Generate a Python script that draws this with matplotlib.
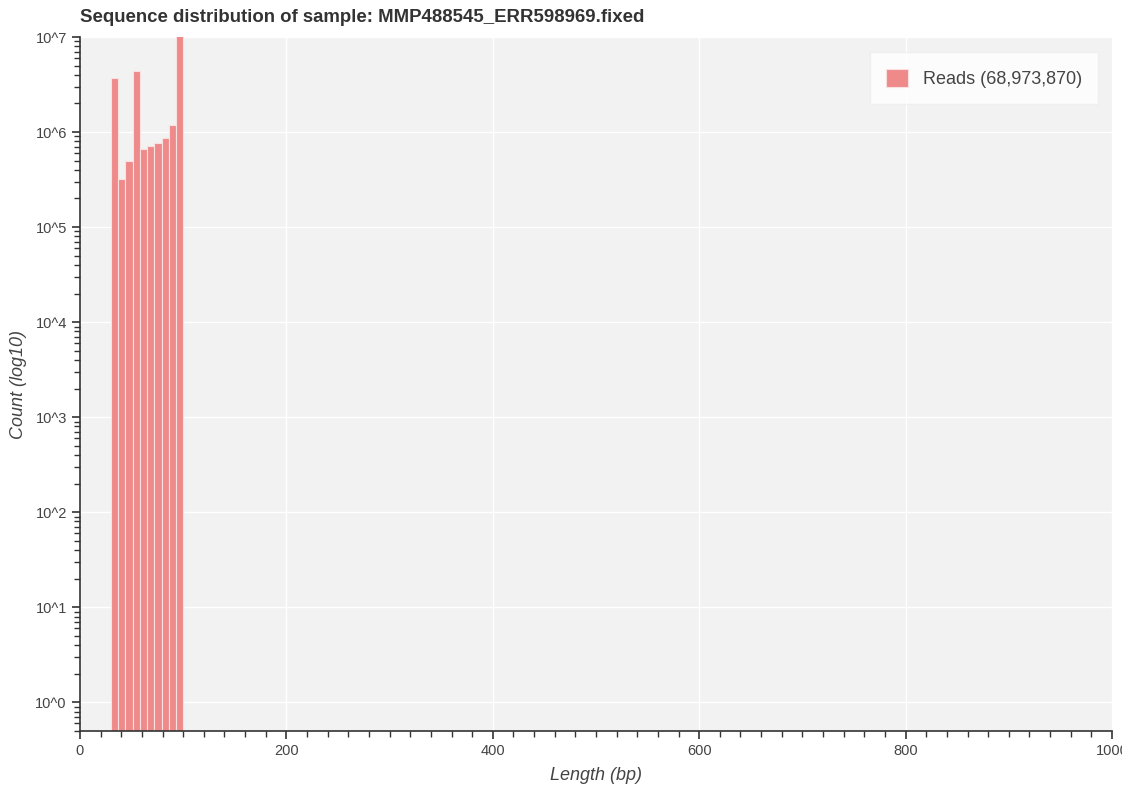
import matplotlib
matplotlib.use('Agg')
import matplotlib.pyplot as plt
from matplotlib.ticker import LogLocator, MultipleLocator, FixedLocator
import numpy as np

plt.rcParams['font.family'] = ['Liberation Sans', 'DejaVu Sans']

# length bins (bp) and read counts per bin
bin_edges = [30, 37, 44, 51, 58, 65, 72, 79, 86, 93, 100]
counts = [3680000, 320000, 497000, 4420000, 660000, 710000, 760000, 870000, 1180000, 55876870]
total_reads = 68973870

x_ticks = [0, 200, 400, 600, 800, 1000]
y_decades = [1, 10, 100, 1000, 10000, 100000, 1000000, 10000000]
y_labels = ['10^0', '10^1', '10^2', '10^3', '10^4', '10^5', '10^6', '10^7']

fig = plt.figure(figsize=(11.22, 7.90), dpi=100)
ax = fig.add_axes([80 / 1122, 1 - 731 / 790, (1112 - 80) / 1122, (731 - 37) / 790])

ax.set_facecolor('#f2f2f2')
lefts = np.array(bin_edges[:-1])
widths = np.diff(bin_edges)
ax.bar(lefts, counts, width=widths, align='edge', color='#ef8a8a',
       edgecolor='#fbe0e0', linewidth=0.8, zorder=2,
       label='Reads ({:,})'.format(total_reads))

ax.set_yscale('log')
ax.set_xlim(0, 1000)
ax.set_ylim(0.5, 1e7)

ax.xaxis.set_major_locator(FixedLocator(x_ticks))
ax.xaxis.set_minor_locator(MultipleLocator(20))
ax.yaxis.set_major_locator(FixedLocator(y_decades))
ax.set_yticklabels(y_labels)
ax.yaxis.set_minor_locator(LogLocator(base=10, subs=np.arange(2, 10)))

ax.grid(True, which='major', color='white', linewidth=1.0, zorder=0)
ax.set_axisbelow(True)

for side in ['top', 'right']:
    ax.spines[side].set_visible(False)
for side in ['left', 'bottom']:
    ax.spines[side].set_color('#333333')
    ax.spines[side].set_linewidth(1.2)

ax.tick_params(axis='both', which='major', direction='out', length=6, width=1.2,
               color='#333333', labelsize=10.5, labelcolor='#444444')
ax.tick_params(axis='both', which='minor', direction='out', length=4, width=1,
               color='#333333')

ax.set_xlabel('Length (bp)', fontsize=13, style='italic', color='#444444')
ax.set_ylabel('Count (log10)', fontsize=13, style='italic', color='#444444')
ax.xaxis.set_label_coords(0.5, (731 - 767) / 694)
ax.yaxis.set_label_coords((27 - 80) / 1032, 0.5)

fig.text(80 / 1122, 1 - 18 / 790, 'Sequence distribution of sample: MMP488545_ERR598969.fixed',
         fontsize=13.4, fontweight='bold', color='#333333', ha='left', va='center')

leg = ax.legend(loc='upper right', bbox_to_anchor=(0.9864, 0.978), fontsize=13,
                frameon=True, fancybox=False, borderpad=0.9, borderaxespad=0,
                handlelength=1.2, handleheight=1.2, handletextpad=0.8)
leg.get_frame().set_facecolor('white')
leg.get_frame().set_edgecolor('#eeeeee')
for t in leg.get_texts():
    t.set_color('#444444')

fig.savefig('out.png', dpi=100)
